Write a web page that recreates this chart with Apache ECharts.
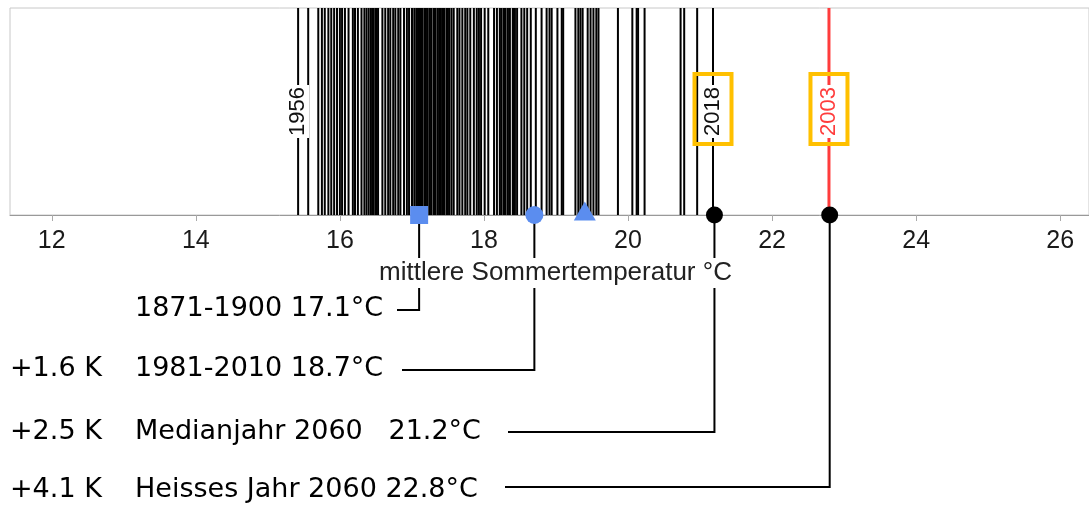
<!DOCTYPE html>
<html><head><meta charset="utf-8">
<script src="https://cdn.jsdelivr.net/npm/echarts@6/dist/echarts.min.js"></script>
<style>html,body{margin:0;padding:0;background:#fff}#c{width:1089px;height:505px}</style>
</head><body><div id="c"></div>
<script>
// ---- data ----
const summerTemps = [
  15.42, 15.56, 15.70, 15.75, 15.79, 15.84, 15.88, 15.92, 15.96, 16.00, 16.03, 16.07, 16.12,
  16.18, 16.21, 16.25, 16.30, 16.34, 16.37, 16.40, 16.43, 16.45, 16.46, 16.49, 16.51, 16.53,
  16.59, 16.63, 16.67, 16.70, 16.74, 16.77, 16.81, 16.84, 16.89, 16.93, 16.96, 17.00, 17.01,
  17.04, 17.07, 17.09, 17.10, 17.12, 17.13, 17.15, 17.18, 17.19, 17.21, 17.24, 17.25, 17.27,
  17.30, 17.31, 17.33, 17.36, 17.38, 17.40, 17.42, 17.44, 17.45, 17.48, 17.50, 17.52, 17.55,
  17.58, 17.63, 17.66, 17.70, 17.74, 17.77, 17.81, 17.86, 17.90, 17.93, 17.96, 18.01, 18.06,
  18.14, 18.18, 18.22, 18.24, 18.27, 18.28, 18.30, 18.33, 18.35, 18.36, 18.40, 18.41, 18.43,
  18.46, 18.52, 18.56, 18.60, 18.65, 18.72, 18.80, 18.87, 18.91, 18.94, 19.02, 19.08, 19.10,
  19.27, 19.31, 19.34, 19.37, 19.44, 19.48, 19.52, 19.56, 19.59, 19.86, 20.06, 20.12, 20.14,
  20.23, 20.73, 20.78, 20.96, 21.18, 22.79
];
const highlightYears = ['1956', '2018', '2003'];
const highlightTemps = [15.42, 21.18, 22.79];
const markerTemps = [17.1, 18.7, 19.4];
const markerShapes = ['rect', 'circle', 'triangle'];
const scenarioTemps = [21.2, 22.8];
const refTemps = [17.1, 18.7, 21.2, 22.8];
const refLabels = ['1871-1900 17.1°C', '1981-2010 18.7°C', 'Medianjahr 2060   21.2°C', 'Heisses Jahr 2060 22.8°C'];
const refDeltas = ['', '+1.6 K', '+2.5 K', '+4.1 K'];
const tickValues = [12, 14, 16, 18, 20, 22, 24, 26];
const axisTitle = 'mittlere Sommertemperatur °C';

// ---- layout (pixels) ----
const layout = {
  rowLineY: [310, 370, 432, 487],
  rowTextY: [309, 369, 432, 490],
  lineEndX: [397, 402, 508, 505],
  deltaX: 10,
  labelX: 135
};
const AXIS_FONT = '"Liberation Sans", Arial, sans-serif';
const NOTE_FONT = '"DejaVu Sans", Verdana, sans-serif';
const BLUE = '#5b8def';
const RED = '#ff3c3c';
const GOLD = '#ffc000';

const chart = echarts.init(document.getElementById('c'), null, {renderer: 'canvas'});

const option = {
  animation: false,
  backgroundColor: '#fff',
  grid: {
    left: 10, right: 0, top: 8, height: 207,
    show: true, borderColor: '#c8c8c8', borderWidth: 1, backgroundColor: 'transparent',
    containLabel: false, outerBoundsMode: 'none'
  },
  xAxis: {
    type: 'value', min: 11.42, max: 26.4, z: 1,
    name: axisTitle, nameLocation: 'middle', nameGap: 43,
    nameTextStyle: {fontFamily: AXIS_FONT, fontSize: 26, color: '#222', padding: [2, 0, 2, 12], backgroundColor: '#fff'},
    axisLine: {show: true, onZero: false, lineStyle: {color: '#999', width: 1}},
    axisTick: {show: true, length: 6, lineStyle: {color: '#aaa'}, customValues: tickValues},
    axisLabel: {show: true, margin: 14, fontFamily: AXIS_FONT, fontSize: 25, color: '#1a1a1a', customValues: tickValues},
    splitLine: {show: false}
  },
  yAxis: {type: 'value', min: 0, max: 1, show: false, splitLine: {show: false}},
  series: [
    {
      type: 'custom', name: 'years', clip: false, z: 2,
      data: summerTemps.map(t => [t, 0]),
      renderItem: function (params, api) {
        const x = api.coord([api.value(0), 0])[0];
        const yb = api.coord([11.42, 0])[1];
        const yt = api.coord([11.42, 1])[1];
        return {type: 'line', shape: {x1: x, y1: yb, x2: x, y2: yt}, style: {stroke: '#000', lineWidth: 2}};
      }
    },
    {
      type: 'custom', name: 'connectors', clip: false, z: 0,
      data: refTemps.map(t => [t, 0]),
      renderItem: function (params, api) {
        const i = params.dataIndex;
        const p = api.coord([api.value(0), 0]);
        const yL = layout.rowLineY[i], yT = layout.rowTextY[i];
        const children = [
          {type: 'polyline', shape: {points: [[p[0], p[1]], [p[0], yL], [layout.lineEndX[i], yL]]},
           style: {stroke: '#000', lineWidth: 2, fill: null}},
          {type: 'text', x: layout.labelX, y: yT,
           style: {text: refLabels[i], font: '27px ' + NOTE_FONT, fill: '#000', align: 'left', verticalAlign: 'middle'}}
        ];
        if (refDeltas[i]) {
          children.push({type: 'text', x: layout.deltaX, y: yT,
            style: {text: refDeltas[i], font: '27px ' + NOTE_FONT, fill: '#000', align: 'left', verticalAlign: 'middle'}});
        }
        return {type: 'group', children: children};
      }
    },
    {
      type: 'custom', name: 'highlights', clip: false, z: 4,
      data: highlightTemps.map(t => [t, 0]),
      renderItem: function (params, api) {
        const i = params.dataIndex;
        const year = highlightYears[i];
        const x = api.coord([api.value(0), 0])[0];
        const yb = api.coord([11.42, 0])[1];
        const yt = api.coord([11.42, 1])[1];
        const mid = (yb + yt) / 2;
        const isHot = year === '2003';
        const boxed = year !== '1956';
        const color = isHot ? RED : '#111';
        const children = [];
        if (isHot) {
          children.push({type: 'line', shape: {x1: x, y1: yb, x2: x, y2: yt}, style: {stroke: RED, lineWidth: 3}});
        }
        children.push({type: 'text', x: x, y: mid, rotation: Math.PI / 2,
          style: {text: year, font: '22px ' + AXIS_FONT, fill: color, align: 'center', verticalAlign: 'middle',
                  backgroundColor: '#fff', padding: [0, 2]}});
        if (boxed) {
          children.push({type: 'rect', shape: {x: x - 18.5, y: 74, width: 37, height: 70},
            style: {stroke: GOLD, lineWidth: 4, fill: null}});
        }
        return {type: 'group', children: children};
      }
    },
    {
      type: 'scatter', name: 'references', z: 6, clip: false,
      data: markerTemps.map((t, i) => ({value: [t, 0], symbol: markerShapes[i],
        symbolSize: markerShapes[i] === 'triangle' ? [22, 19] : 18,
        symbolOffset: markerShapes[i] === 'triangle' ? [0, -4] : [0, 0]})),
      itemStyle: {color: BLUE, opacity: 1}
    },
    {
      type: 'scatter', name: 'scenarios', z: 6, clip: false,
      symbol: 'circle', symbolSize: 17,
      data: scenarioTemps.map(t => [t, 0]),
      itemStyle: {color: '#000', opacity: 1}
    }
  ]
};
chart.setOption(option);
</script>
</body></html>
